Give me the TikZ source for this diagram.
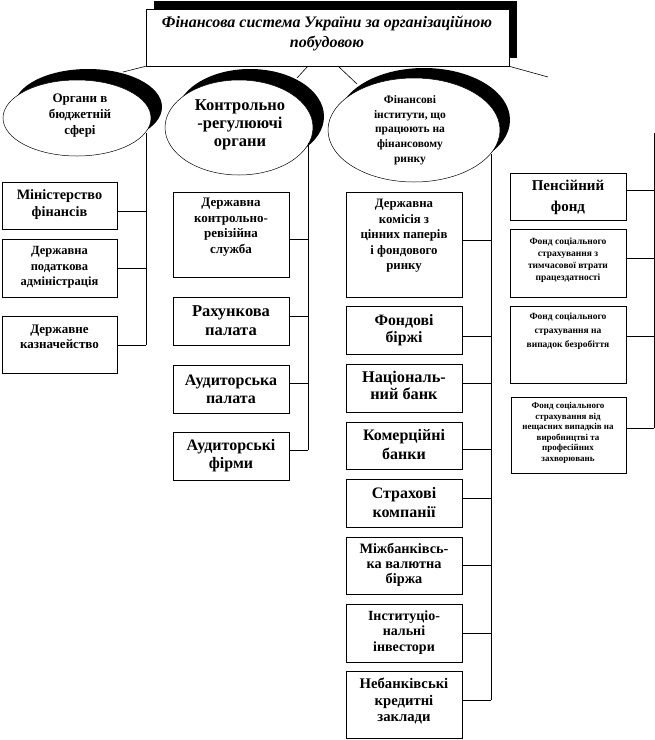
\documentclass[tikz,border=0pt]{standalone}
\usepackage{fontspec}
\setmainfont{Liberation Serif}
\usetikzlibrary{fit,shapes.geometric}
\newcommand\fs[2]{\fontsize{#1}{#2}\selectfont\bfseries}
\tikzset{
  box/.style={draw, line width=0.9pt, inner sep=0pt, fill=white},
  txt/.style={inner sep=0pt, align=center},
  conn/.style={line width=0.9pt},
  thin conn/.style={line width=0.6pt},
  oval/.style={ellipse, draw, line width=0.5pt, fill=white, inner sep=0pt},
  ovalshadow/.style={ellipse, fill=black, inner sep=0pt},
}
\begin{document}
\begin{tikzpicture}[x=1pt,y=-1pt]
\useasboundingbox (0,0) rectangle (655,740);
\fill[white] (0,0) rectangle (655,740);

% title
\fill[black] (154,1) rectangle (517,58);
\node[box, line width=0.6pt, fit={(146,9) (509,66)}] (title) {};
\node[txt, font=\fs{16}{20}\itshape] (titlet) at (327,33) {Фінансова система України за організаційною\\побудовою};

% title connectors
\coordinate (t1) at (123,72);
\coordinate (t2a) at (308,66);
\coordinate (t2) at (297,78);
\coordinate (t3a) at (338,66);
\coordinate (t3) at (357,84);
\coordinate (t4) at (548,77);
\draw[thin conn] (title.south west) -- (t1);
\draw[thin conn] (t2a) -- (t2);
\draw[thin conn] (t3a) -- (t3);
\draw[thin conn] (title.south east) -- (t4);

% ellipses
\node[ovalshadow, minimum width=148pt, minimum height=76pt] (e1s) at (88,107) {};
\node[oval, minimum width=148pt, minimum height=76pt] (e1) at (77,118) {};
\node[txt, font=\fs{13}{16}] (e1t) at (80,116) {Органи в\\бюджетній\\сфері};

\node[ovalshadow, minimum width=148pt, minimum height=95pt] (e2s) at (250,116.5) {};
\node[oval, minimum width=148pt, minimum height=95pt] (e2) at (239,127.5) {};
\node[txt, font=\fs{16.5}{18}] (e2t) at (240,125) {Контрольно\\-регулюючі\\органи};

\node[ovalshadow, minimum width=172pt, minimum height=104pt] (e3s) at (424,120) {};
\node[oval, minimum width=172pt, minimum height=104pt] (e3) at (414,130) {};
\node[txt, font=\fs{11.5}{14.7}] (e3t) at (410,130) {Фінансові\\інститути, що\\працюють на\\фінансовому\\ринку};

% left column
\node[box, fit={(2,182) (117,229)}] (m1) {};
\node[box, fit={(2,239) (117,297)}] (m2) {};
\node[box, fit={(2,316) (117,373)}] (m3) {};
\node[txt, font=\fs{14.3}{17}] (m1t) at (59.5,204.5) {Міністерство\\фінансів};
\node[txt, font=\fs{12.5}{15.5}] (m2t) at (59.5,267.5) {Державна\\податкова\\адміністрація};
\node[txt, font=\fs{13}{15}] (m3t) at (59.5,336.5) {Державне\\казначейство};
\coordinate (v1top) at (146,133);
\coordinate (j11) at (146,211);
\coordinate (j12) at (146,268);
\coordinate (j13) at (146,345);
\draw[conn] (v1top) -- (j13);
\draw[conn] (m1.east |- j11) -- (j11);
\draw[conn] (m2.east |- j12) -- (j12);
\draw[conn] (m3.east |- j13) -- (j13);

% middle column
\node[box, fit={(173,192) (289,277)}] (c1) {};
\node[box, fit={(173,297) (289,345)}] (c2) {};
\node[box, fit={(173,365) (289,413)}] (c3) {};
\node[box, fit={(173,432) (289,480)}] (c4) {};
\node[txt, font=\fs{13}{15.5}] (c1t) at (231,227) {Державна\\контрольно-\\ревізійна\\служба};
\node[txt, font=\fs{16.5}{19}] (c2t) at (231,321) {Рахункова\\палата};
\node[txt, font=\fs{16}{18}] (c3t) at (231,389) {Аудиторська\\палата};
\node[txt, font=\fs{16}{18}] (c4t) at (231,456) {Аудиторські\\фірми};
\coordinate (v2top) at (308,143);
\coordinate (j21) at (308,239);
\coordinate (j22) at (308,316);
\coordinate (j23) at (308,383);
\coordinate (j24) at (308,450);
\draw[conn] (v2top) -- (j24);
\draw[conn] (c1.east |- j21) -- (j21);
\draw[conn] (c2.east |- j22) -- (j22);
\draw[conn] (c3.east |- j23) -- (j23);
\draw[conn] (c4.east |- j24) -- (j24);

% right column
\node[box, fit={(346,192) (462,297)}] (f1) {};
\node[box, fit={(346,306) (462,354)}] (f2) {};
\node[box, fit={(346,364) (462,412)}] (f3) {};
\node[box, fit={(346,422) (462,469)}] (f4) {};
\node[box, fit={(346,479) (462,527)}] (f5) {};
\node[box, fit={(346,537) (462,594)}] (f6) {};
\node[box, fit={(346,604) (462,662)}] (f7) {};
\node[box, fit={(346,671) (462,738)}] (f8) {};
\node[txt, font=\fs{12.8}{15.5}] (f1t) at (404,236) {Державна\\комісія з\\цінних паперів\\і фондового\\ринку};
\node[txt, font=\fs{15.8}{17}] (f2t) at (404,330) {Фондові\\біржі};
\node[txt, font=\fs{16.3}{17}] (f3t) at (404,385.5) {Національ-\\ний банк};
\node[txt, font=\fs{16}{19}] (f4t) at (404,445) {Комерційні\\банки};
\node[txt, font=\fs{16}{19}] (f5t) at (404,502.5) {Страхові\\компанії};
\node[txt, font=\fs{14.3}{15}] (f6t) at (404,565) {Міжбанківсь-\\ка валютна\\біржа};
\node[txt, font=\fs{14}{15.5}] (f7t) at (404,632.5) {Інституціо-\\нальні\\інвестори};
\node[txt, font=\fs{14.7}{16.5}] (f8t) at (404,701.5) {Небанківські\\кредитні\\заклади};
\coordinate (v3top) at (491,154);
\coordinate (j31) at (491,240);
\coordinate (j32) at (491,336);
\coordinate (j33) at (491,383);
\coordinate (j34) at (491,449);
\coordinate (j35) at (491,498);
\coordinate (j36) at (491,565);
\coordinate (j37) at (491,633);
\coordinate (j38) at (491,700);
\draw[conn] (v3top) -- (j38);
\foreach \i in {1,...,8} {\draw[conn] (f\i.east |- j3\i) -- (j3\i);}

% far right column
\node[box, fit={(510,173) (626,220)}] (p1) {};
\node[box, fit={(510,229) (626,297)}] (p2) {};
\node[box, fit={(510,306) (626,383)}] (p3) {};
\node[box, fit={(511,397) (626,473)}] (p4) {};
\node[txt, font=\fs{15}{21}] (p1t) at (568,197.5) {Пенсійний\\фонд};
\node[txt, font=\fs{9.5}{12}] (p2t) at (568,260) {Фонд соціального\\страхування з\\тимчасової втрати\\працездатності};
\node[txt, font=\fs{9.5}{14}] (p3t) at (568,331) {Фонд соціального\\страхування на\\випадок безробіття};
\node[txt, font=\fs{9}{10.5}] (p4t) at (568,433) {Фонд соціального\\страхування від\\нещасних випадків на\\виробництві та\\професійних\\захворювань};
\coordinate (v4top) at (654,133);
\coordinate (j41) at (654,190);
\coordinate (j42) at (654,258);
\coordinate (j43) at (654,336);
\coordinate (j44) at (654,428);
\draw[conn] (v4top) -- (j44);
\foreach \i in {1,...,4} {\draw[conn] (p\i.east |- j4\i) -- (j4\i);}
\end{tikzpicture}
\end{document}
